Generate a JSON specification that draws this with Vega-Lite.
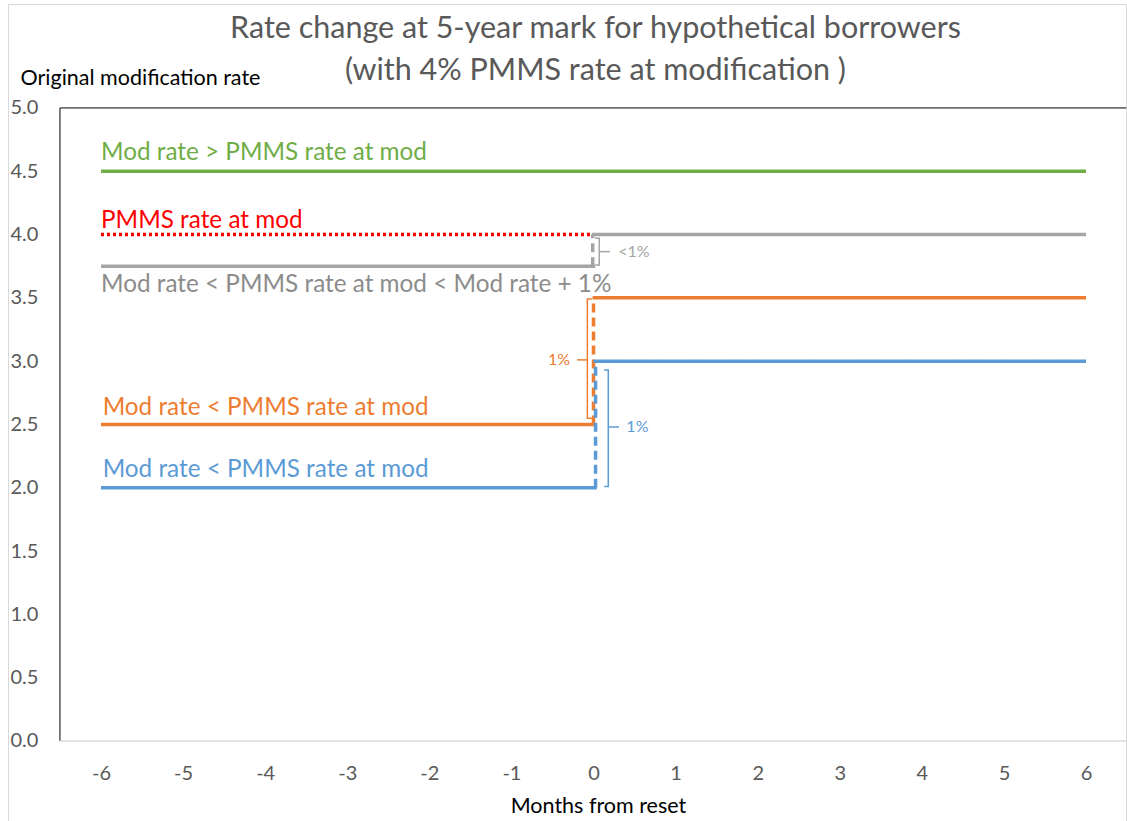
{
  "$schema": "https://vega.github.io/schema/vega-lite/v6.json",
  "width": 1118,
  "height": 817,
  "padding": {"left": 8, "top": 4, "right": 1, "bottom": 0},
  "autosize": "none",
  "background": "white",
  "config": {
    "font": "Lato",
    "view": {"stroke": "#D9D9D9", "strokeWidth": 1}
  },
  "datasets": {
    "heading": [
      {"label": "Rate change at 5-year mark for hypothetical borrowers\n(with 4% PMMS rate at modification )", "x": 0.024, "y": 5.553}
    ],
    "steps": [
      {"seg": "g", "series": "4.5%", "style": "solid", "i": 0, "x": -6, "y": 4.5},
      {"seg": "g", "series": "4.5%", "style": "solid", "i": 1, "x": 6, "y": 4.5},
      {"seg": "r", "series": "PMMS", "style": "dot", "i": 0, "x": -6, "y": 4.0},
      {"seg": "r", "series": "PMMS", "style": "dot", "i": 1, "x": -0.03, "y": 4.0},
      {"seg": "gyL", "series": "3.75%", "style": "solid", "i": 0, "x": -6, "y": 3.75},
      {"seg": "gyL", "series": "3.75%", "style": "solid", "i": 1, "x": 0.02, "y": 3.75},
      {"seg": "gyV", "series": "3.75%", "style": "dash", "i": 0, "x": -0.01, "y": 3.75},
      {"seg": "gyV", "series": "3.75%", "style": "dash", "i": 1, "x": -0.01, "y": 4.0},
      {"seg": "gyR", "series": "3.75%", "style": "solid", "i": 0, "x": -0.02, "y": 4.0},
      {"seg": "gyR", "series": "3.75%", "style": "solid", "i": 1, "x": 6, "y": 4.0},
      {"seg": "oL", "series": "2.5%", "style": "solid", "i": 0, "x": -6, "y": 2.5},
      {"seg": "oL", "series": "2.5%", "style": "solid", "i": 1, "x": 0.01, "y": 2.5},
      {"seg": "oV", "series": "2.5%", "style": "dash", "i": 0, "x": 0.0, "y": 2.5},
      {"seg": "oV", "series": "2.5%", "style": "dash", "i": 1, "x": 0.0, "y": 3.5},
      {"seg": "oR", "series": "2.5%", "style": "solid", "i": 0, "x": -0.01, "y": 3.5},
      {"seg": "oR", "series": "2.5%", "style": "solid", "i": 1, "x": 6, "y": 3.5},
      {"seg": "bL", "series": "2.0%", "style": "solid", "i": 0, "x": -6, "y": 2.0},
      {"seg": "bL", "series": "2.0%", "style": "solid", "i": 1, "x": 0.04, "y": 2.0},
      {"seg": "bV", "series": "2.0%", "style": "dash", "i": 0, "x": 0.025, "y": 2.0},
      {"seg": "bV", "series": "2.0%", "style": "dash", "i": 1, "x": 0.025, "y": 3.0},
      {"seg": "bR", "series": "2.0%", "style": "solid", "i": 0, "x": 0.0, "y": 3.0},
      {"seg": "bR", "series": "2.0%", "style": "solid", "i": 1, "x": 6, "y": 3.0}
    ],
    "brackets": [
      {"grp": "gb", "series": "3.75%", "i": 0, "x": 0.02, "y": 3.97},
      {"grp": "gb", "series": "3.75%", "i": 1, "x": 0.07, "y": 3.97},
      {"grp": "gb", "series": "3.75%", "i": 2, "x": 0.07, "y": 3.76},
      {"grp": "gb", "series": "3.75%", "i": 3, "x": 0.02, "y": 3.76},
      {"grp": "gt", "series": "3.75%", "i": 0, "x": 0.07, "y": 3.865},
      {"grp": "gt", "series": "3.75%", "i": 1, "x": 0.2, "y": 3.865},
      {"grp": "ob", "series": "2.5%", "i": 0, "x": -0.02, "y": 3.49},
      {"grp": "ob", "series": "2.5%", "i": 1, "x": -0.075, "y": 3.49},
      {"grp": "ob", "series": "2.5%", "i": 2, "x": -0.075, "y": 2.55},
      {"grp": "ob", "series": "2.5%", "i": 3, "x": -0.02, "y": 2.55},
      {"grp": "ot", "series": "2.5%", "i": 0, "x": -0.075, "y": 3.01},
      {"grp": "ot", "series": "2.5%", "i": 1, "x": -0.2, "y": 3.01},
      {"grp": "bb", "series": "2.0%", "i": 0, "x": 0.13, "y": 2.93},
      {"grp": "bb", "series": "2.0%", "i": 1, "x": 0.18, "y": 2.93},
      {"grp": "bb", "series": "2.0%", "i": 2, "x": 0.18, "y": 2.01},
      {"grp": "bb", "series": "2.0%", "i": 3, "x": 0.13, "y": 2.01},
      {"grp": "bt", "series": "2.0%", "i": 0, "x": 0.18, "y": 2.48},
      {"grp": "bt", "series": "2.0%", "i": 1, "x": 0.31, "y": 2.48}
    ],
    "labels": [
      {"label": "Mod rate > PMMS rate at mod", "series": "4.5%", "x": -6, "y": 4.589},
      {"label": "PMMS rate at mod", "series": "PMMS", "x": -6, "y": 4.054},
      {"label": "Mod rate < PMMS rate at mod < Mod rate + 1%", "series": "3.75%", "x": -6, "y": 3.549},
      {"label": "Mod rate < PMMS rate at mod", "series": "2.5%", "x": -5.98, "y": 2.575},
      {"label": "Mod rate < PMMS rate at mod", "series": "2.0%", "x": -5.98, "y": 2.085}
    ],
    "gaps": [
      {"label": "<1%", "series": "3.75%", "x": 0.3, "y": 3.865},
      {"label": "1%", "series": "2.5%", "x": -0.555, "y": 3.01},
      {"label": "1%", "series": "2.0%", "x": 0.4, "y": 2.48}
    ],
    "frame": [
      {"edge": "left", "x": -6.5, "x2": -6.5, "y": 0, "y2": 5},
      {"edge": "top", "x": -6.5, "x2": 6.49, "y": 5, "y2": 5}
    ],
    "base": [
      {"edge": "bottom", "x": -6.5, "x2": 6.49, "y": 0, "y2": 0}
    ]
  },
  "encoding": {
    "x": {
      "field": "x",
      "type": "quantitative",
      "scale": {"domain": [-7.133, 6.487], "nice": false, "zero": false},
      "axis": {
        "values": [-6, -5, -4, -3, -2, -1, 0, 1, 2, 3, 4, 5, 6],
        "labelExpr": "toString(datum.value)",
        "offset": -80,
        "domain": false,
        "ticks": false,
        "grid": false,
        "labelFlush": false,
        "labelOverlap": false,
        "labelBaseline": "alphabetic",
        "labelPadding": 38,
        "labelFontSize": 20,
        "labelColor": "#595959",
        "title": "Months from reset",
        "titleX": 590,
        "titleY": 71,
        "titleAlign": "center",
        "titleBaseline": "alphabetic",
        "titleFontSize": 21.5,
        "titleFontWeight": "normal",
        "titleColor": "#000000"
      }
    },
    "y": {
      "field": "y",
      "type": "quantitative",
      "scale": {"domain": [-0.632, 5.821], "nice": false, "zero": false},
      "axis": {
        "values": [0, 0.5, 1, 1.5, 2, 2.5, 3, 3.5, 4, 4.5, 5],
        "format": ".1f",
        "domain": false,
        "ticks": false,
        "grid": false,
        "labelFlush": false,
        "labelOverlap": false,
        "labelAlign": "left",
        "labelBaseline": "middle",
        "labelPadding": -2,
        "labelFontSize": 20,
        "labelColor": "#595959",
        "title": "Original modification rate",
        "titleAngle": 0,
        "titleX": 12,
        "titleY": 80,
        "titleAlign": "left",
        "titleBaseline": "alphabetic",
        "titleFontSize": 21.5,
        "titleFontWeight": "normal",
        "titleColor": "#000000"
      }
    }
  },
  "resolve": {"scale": {"color": "independent"}},
  "layer": [
    {
      "data": {"name": "frame"},
      "mark": {"type": "rule", "color": "#000000", "strokeWidth": 1},
      "encoding": {"x2": {"field": "x2"}, "y2": {"field": "y2"}}
    },
    {
      "data": {"name": "base"},
      "mark": {"type": "rule", "color": "#D9D9D9", "strokeWidth": 1.5},
      "encoding": {"x2": {"field": "x2"}, "y2": {"field": "y2"}}
    },
    {
      "data": {"name": "steps"},
      "mark": {"type": "line", "strokeWidth": 3.5, "strokeCap": "butt"},
      "encoding": {
        "detail": {"field": "seg"},
        "order": {"field": "i"},
        "color": {
          "field": "series",
          "scale": {"domain": ["4.5%", "PMMS", "3.75%", "2.5%", "2.0%"], "range": ["#70AD47", "#FF0000", "#A5A5A5", "#ED7D31", "#5B9BD5"]},
          "legend": null
        },
        "strokeDash": {
          "field": "style",
          "scale": {"domain": ["solid", "dash", "dot"], "range": [[1, 0], [9, 5], [3, 3]]},
          "legend": null
        }
      }
    },
    {
      "data": {"name": "brackets"},
      "mark": {"type": "line", "strokeWidth": 1.5},
      "encoding": {
        "detail": {"field": "grp"},
        "order": {"field": "i"},
        "color": {
          "field": "series",
          "scale": {"domain": ["3.75%", "2.5%", "2.0%"], "range": ["#A5A5A5", "#ED7D31", "#5B9BD5"]},
          "legend": null
        }
      }
    },
    {
      "data": {"name": "labels"},
      "mark": {"type": "text", "align": "left", "baseline": "alphabetic", "fontSize": 24.3},
      "encoding": {
        "text": {"field": "label"},
        "color": {
          "field": "series",
          "scale": {"domain": ["4.5%", "PMMS", "3.75%", "2.5%", "2.0%"], "range": ["#70AD47", "#FF0000", "#8C8C8C", "#ED7D31", "#5B9BD5"]},
          "legend": null
        }
      }
    },
    {
      "data": {"name": "gaps"},
      "mark": {"type": "text", "align": "left", "baseline": "middle", "fontSize": 16},
      "encoding": {
        "text": {"field": "label"},
        "color": {
          "field": "series",
          "scale": {"domain": ["3.75%", "2.5%", "2.0%"], "range": ["#A5A5A5", "#ED7D31", "#5B9BD5"]},
          "legend": null
        }
      }
    },
    {
      "data": {"name": "heading"},
      "mark": {"type": "text", "align": "center", "baseline": "alphabetic", "lineBreak": "\n", "lineHeight": 42, "fontSize": 30.5, "color": "#595959"},
      "encoding": {"text": {"field": "label"}}
    }
  ]
}
